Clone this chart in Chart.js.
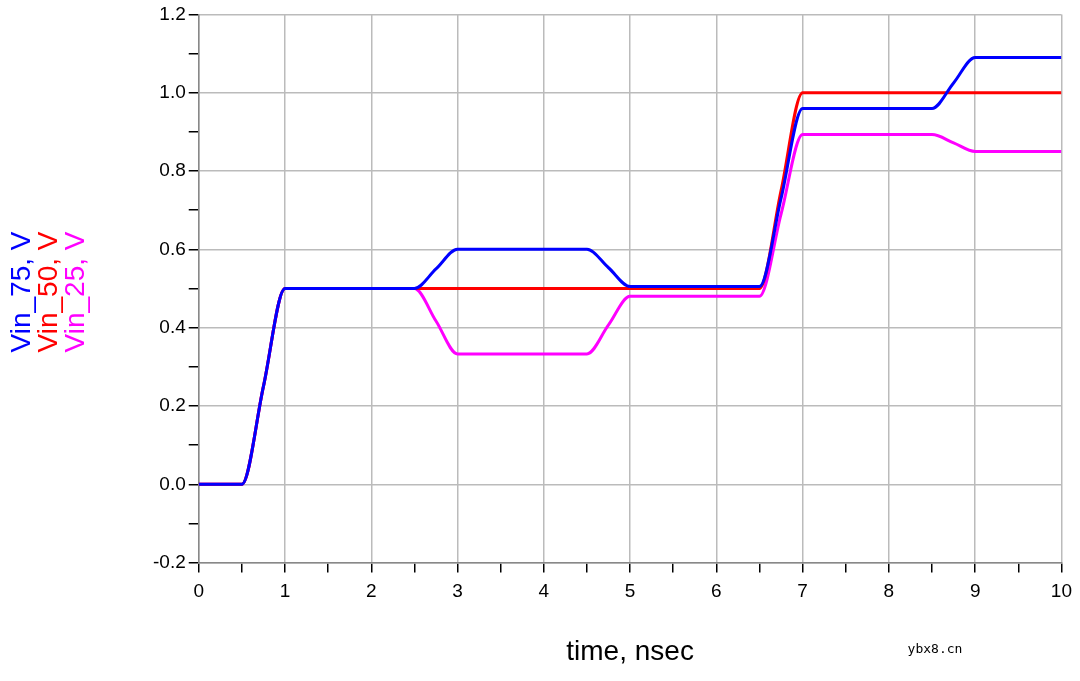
<!DOCTYPE html>
<html><head><meta charset="utf-8">
<script src="https://cdn.jsdelivr.net/npm/chart.js@4/dist/chart.umd.min.js"></script>
<style>html,body{margin:0;background:#fff}#wrap{width:1080px;height:681px;position:relative}</style>
</head><body><div id="wrap"><canvas id="c" width="1080" height="681"></canvas></div>
<script>
// time points (nsec) and traces (V)
const time = [0, 0.5, 0.75, 1, 2.5, 2.75, 3, 4.5, 4.75, 5, 6.5, 6.75, 7, 8.5, 8.75, 9, 10];
const vin75 = [0, 0, 0.25, 0.5, 0.5, 0.55, 0.6, 0.6, 0.553, 0.505, 0.505, 0.73, 0.96, 0.96, 1.025, 1.09, 1.09];
const vin50 = [0, 0, 0.25, 0.5, 0.5, 0.5, 0.5, 0.5, 0.5, 0.5, 0.5, 0.75, 1.0, 1.0, 1.0, 1.0, 1.0];
const vin25 = [0, 0, 0.25, 0.5, 0.5, 0.417, 0.333, 0.333, 0.407, 0.48, 0.48, 0.69, 0.893, 0.893, 0.872, 0.85, 0.85];

const pts = arr => arr.map((v, i) => ({ x: time[i], y: v }));
const font = { family: 'Arial, "Liberation Sans"', size: 19 };
const isMajorY = v => Math.abs(Math.round(v * 10)) % 2 === 0;

const yTitle = {
    id: 'yTitle',
    afterDraw(chart) {
        const c = chart.ctx;
        const rows = [['Vin_75, V', '#0000ff', 22], ['Vin_50, V', '#ff0000', 49], ['Vin_25, V', '#ff00ff', 76]];
        c.save();
        c.font = '28px Arial, "Liberation Sans"';
        c.textAlign = 'center';
        c.textBaseline = 'middle';
        rows.forEach(r => {
            c.save();
            c.translate(r[2], 292);
            c.rotate(-Math.PI / 2);
            c.fillStyle = r[1];
            c.fillText(r[0], 0, 0);
            c.restore();
        });
        c.font = '13px "DejaVu Sans Mono", monospace';
        c.fillStyle = '#000';
        c.fillText('ybx8.cn', 935, 650);
        c.restore();
    }
};

new Chart(document.getElementById('c'), {
    type: 'line',
    data: {
        datasets: [
            { label: 'Vin_75', data: pts(vin75), borderColor: '#0000ff' },
            { label: 'Vin_50', data: pts(vin50), borderColor: '#ff0000' },
            { label: 'Vin_25', data: pts(vin25), borderColor: '#ff00ff' }
        ].map(d => Object.assign(d, { borderWidth: 3, pointRadius: 0, cubicInterpolationMode: 'monotone', fill: false }))
    },
    options: {
        responsive: false, animation: false,
        layout: { padding: { left: 150, right: 17, top: 10, bottom: 8 } },
        plugins: { legend: { display: false }, tooltip: { enabled: false } },
        scales: {
            x: {
                type: 'linear', min: 0, max: 10,
                ticks: { stepSize: 0.5, color: '#000', font: font, maxRotation: 0, autoSkip: false, padding: 8,
                    callback: v => Number.isInteger(v) ? v : '' },
                grid: { color: ctx => Number.isInteger(ctx.tick.value) ? '#bbbbbb' : 'rgba(0,0,0,0)', tickColor: '#000', tickLength: 10, lineWidth: 1.5 },
                border: { color: '#888', width: 1.5 },
                title: { display: true, text: 'time, nsec', color: '#000', font: { family: font.family, size: 28 }, padding: { top: 24 } }
            },
            y: {
                min: -0.2, max: 1.2,
                ticks: { stepSize: 0.1, color: '#000', font: font, autoSkip: false,
                    callback: v => isMajorY(v) ? (Math.abs(v) < 1e-9 ? '0.0' : v.toFixed(1)) : '' },
                grid: { color: ctx => isMajorY(ctx.tick.value) ? '#bbbbbb' : 'rgba(0,0,0,0)', tickColor: '#000', tickLength: 10, lineWidth: 1.5 },
                border: { color: '#888', width: 1.5 }
            }
        }
    },
    plugins: [yTitle]
});
</script></body></html>
